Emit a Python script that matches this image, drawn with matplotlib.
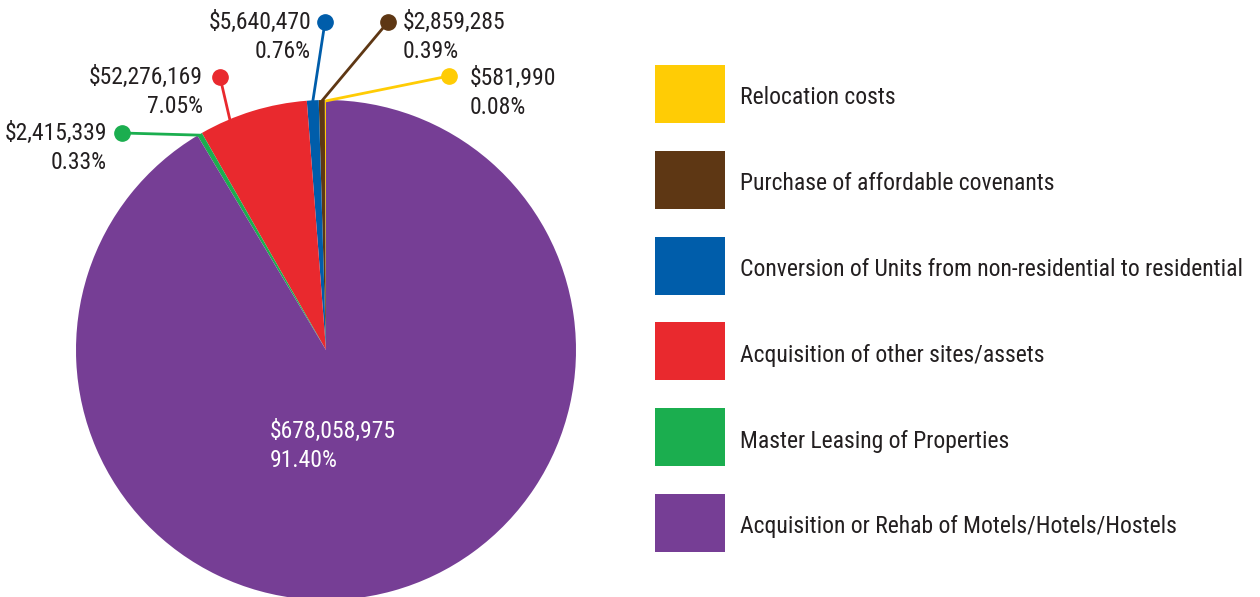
import numpy as np
import matplotlib
matplotlib.use("Agg")
import matplotlib.pyplot as plt
from matplotlib.patches import Rectangle
from matplotlib import font_manager as fm

categories = [
    "Relocation costs",
    "Purchase of affordable covenants",
    "Conversion of Units from non-residential to residential",
    "Acquisition of other sites/assets",
    "Master Leasing of Properties",
    "Acquisition or Rehab of Motels/Hotels/Hostels",
]
values = [581990, 2859285, 5640470, 52276169, 2415339, 678058975]
colors = ["#FFCC05", "#5E3714", "#005DAA", "#E9292E", "#1BAE4F", "#763E95"]

names = set(f.name for f in fm.fontManager.ttflist)
cands = ["Roboto Condensed", "Liberation Sans Narrow", "Archivo Narrow", "PT Sans Narrow",
         "IBM Plex Sans Condensed", "Open Sans Condensed", "Roboto"]
chosen = next((c for c in cands if c in names), "DejaVu Sans")
FONT = [chosen, "DejaVu Sans"]
TXT = "#231F20"
W, H = 1260, 597

fig = plt.figure(figsize=(W / 100, H / 100), dpi=100)
ax = fig.add_axes([0, 0, 1, 1])

def Y(py):
    return H - py

cx, cy, R = 326, 350, 250
wedges, _ = ax.pie(values, colors=colors, startangle=90, counterclock=True,
                   center=(cx, Y(cy)), radius=R,
                   wedgeprops=dict(linewidth=0))
ax.set_xlim(0, W)
ax.set_ylim(0, H)
ax.set_aspect("equal")
ax.axis("off")

total = sum(values)
labels = ["${:,}\n{:.2f}%".format(v, 100 * v / total) for v in values]

layout = [
    dict(dot=(449, 76), txt=(470, 77), ha="left", frac=0.5),
    dict(dot=(388, 22), txt=(403, 21), ha="left", frac=0.5),
    dict(dot=(325, 22), txt=(311, 21), ha="right", frac=0.5),
    dict(dot=(220, 77), txt=(203, 76), ha="right", frac=0.72),
    dict(dot=(122, 133), txt=(107, 132), ha="right", frac=0.5),
]

FS = 17
LS = 1.32
for i, lay in enumerate(layout):
    w = wedges[i]
    ang = np.deg2rad(w.theta1 + lay["frac"] * (w.theta2 - w.theta1))
    ex = cx + (R - 1) * np.cos(ang)
    ey = Y(cy) + (R - 1) * np.sin(ang)
    dx, dy = lay["dot"]
    ax.plot([ex, dx], [ey, Y(dy)], color=colors[i], lw=2, solid_capstyle="butt", zorder=3)
    ax.plot([dx], [Y(dy)], "o", color=colors[i], ms=11, zorder=4)
    tx, ty = lay["txt"]
    ax.text(tx, Y(ty) + 10, labels[i], ha=lay["ha"], va="top", multialignment=lay["ha"],
            family=FONT, fontsize=FS, color=TXT, linespacing=LS)

ax.text(270, Y(430) + 10, labels[5], ha="left", va="top", multialignment="left",
        family=FONT, fontsize=FS, color="white", linespacing=LS)

row0, step = 94, 85.8
for i, (cat, col) in enumerate(zip(categories, colors)):
    yc = row0 + i * step
    ax.add_patch(Rectangle((655, Y(yc + 29)), 70, 58, facecolor=col, edgecolor="none"))
    ax.text(740, Y(yc + 4), cat, ha="left", va="center", family=FONT, fontsize=FS, color=TXT)

fig.savefig("out.png", dpi=100)
